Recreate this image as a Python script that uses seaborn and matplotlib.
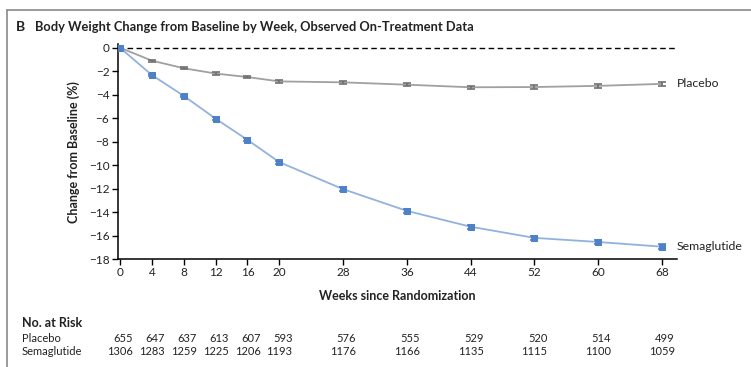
import numpy as np
import pandas as pd
import matplotlib
matplotlib.use("Agg")
import matplotlib.pyplot as plt
import seaborn as sns
from matplotlib import transforms
from matplotlib.lines import Line2D

# ---------------- data ----------------
weeks = [0, 4, 8, 12, 16, 20, 28, 36, 44, 52, 60, 68]
placebo = [0, -1.1, -1.75, -2.2, -2.5, -2.87, -2.95, -3.15, -3.37, -3.35, -3.25, -3.08]
placebo_err = [0, 0.08, 0.1, 0.1, 0.12, 0.15, 0.15, 0.15, 0.15, 0.17, 0.17, 0.17]
sema = [0, -2.33, -4.1, -6.05, -7.85, -9.75, -12.05, -13.9, -15.25, -16.2, -16.55, -16.95]
sema_err = [0, 0.08, 0.1, 0.12, 0.12, 0.14, 0.15, 0.17, 0.18, 0.2, 0.2, 0.2]
risk_placebo = [655, 647, 637, 613, 607, 593, 576, 555, 529, 520, 514, 499]
risk_sema = [1306, 1283, 1259, 1225, 1206, 1193, 1176, 1166, 1135, 1115, 1100, 1059]
yticks = list(range(-18, 1, 2))

title = "Body Weight Change from Baseline by Week, Observed On-Treatment Data"
xlabel = "Weeks since Randomization"
ylabel = "Change from Baseline (%)"

# ---------------- style ----------------
sns.set_style("ticks")
plt.rcParams["font.family"] = ["Lato", "DejaVu Sans"]

W, H = 751, 367
fig = plt.figure(figsize=(W / 100, H / 100), dpi=100)
fig.patch.set_facecolor("white")

def fx(px):
    return px / W

def fy(py):
    return 1 - py / H

ax = fig.add_axes([fx(117.6), fy(259), fx(677) - fx(117.6), fy(44.2) - fy(259)])

df = pd.DataFrame({
    "week": weeks * 2,
    "change": placebo + sema,
    "group": ["Placebo"] * len(weeks) + ["Semaglutide"] * len(weeks),
})

c_plac_line = "#a0a0a0"
c_plac_bar = "#6f6f6f"
c_sema_line = "#92b2de"
c_sema_mark = "#5080c6"

ax.axhline(0, color="black", lw=1.0, ls=(0, (4, 2.5)), zorder=1)

sns.lineplot(data=df[df.group == "Placebo"], x="week", y="change", ax=ax,
             color=c_plac_line, lw=1.3, marker=None, zorder=2, legend=False)
ax.errorbar(weeks, placebo, yerr=placebo_err, fmt="none", ecolor=c_plac_bar,
            elinewidth=1.2, capsize=2.8, capthick=1.2, zorder=3)

sns.lineplot(data=df[df.group == "Semaglutide"], x="week", y="change", ax=ax,
             color=c_sema_line, lw=1.3, marker="s", markersize=4.6,
             markerfacecolor=c_sema_mark, markeredgecolor=c_sema_mark,
             zorder=4, legend=False)
ax.errorbar(weeks, sema, yerr=sema_err, fmt="none", ecolor=c_sema_mark,
            elinewidth=1.2, capsize=2.8, capthick=1.2, zorder=5)

ax.set_xlim(-0.3, 69.9)
ax.set_ylim(-18, 0.3)
ax.set_xticks(weeks)
ax.set_yticks(yticks)
ax.set_xticklabels([str(w) for w in weeks])
ax.set_yticklabels([("\u2212" + str(-v)) if v < 0 else str(v) for v in yticks])
ax.tick_params(direction="out", length=4, width=1, colors="black",
               labelsize=8.5, labelcolor="#222222", pad=2)
for s in ["top", "right"]:
    ax.spines[s].set_visible(False)
for s in ["left", "bottom"]:
    ax.spines[s].set_linewidth(1.1)
    ax.spines[s].set_color("black")
ax.set_xlabel("")
ax.set_ylabel("")
ax.set_facecolor("white")

# series labels
ax.annotate("Placebo", (weeks[-1], placebo[-1]), xytext=(15, 0),
            textcoords="offset pixels", va="center", ha="left",
            fontsize=8.8, color="#222222")
ax.annotate("Semaglutide", (weeks[-1], sema[-1]), xytext=(15, 0),
            textcoords="offset pixels", va="center", ha="left",
            fontsize=8.8, color="#222222")

# axis labels
fig.text(fx(397), fy(296), xlabel, ha="center", va="center",
         fontsize=9, fontweight="bold", color="#222222")
fig.text(fx(74), fy(152), ylabel, ha="center", va="center", rotation=90,
         fontsize=9, fontweight="bold", color="#222222")

# title
fig.text(fx(16), fy(31), "B", ha="left", va="baseline",
         fontsize=10, fontweight="bold", color="#222222")
fig.text(fx(35), fy(31), title, ha="left", va="baseline",
         fontsize=9.3, fontweight="bold", color="#222222")

# frame lines
fig.add_artist(Line2D([fx(7), 1.0], [fy(10), fy(10)], color="#8a8a8a", lw=1.2))
fig.add_artist(Line2D([fx(7), fx(7)], [fy(10), 0.0], color="#8a8a8a", lw=1.2))

# risk table
fig.text(fx(22), fy(327), "No. at Risk", ha="left", va="baseline",
         fontsize=9, fontweight="bold", color="#222222")
fig.text(fx(22), fy(341.5), "Placebo", ha="left", va="baseline",
         fontsize=8, color="#222222")
fig.text(fx(22), fy(355), "Semaglutide", ha="left", va="baseline",
         fontsize=8, color="#222222")
blend = transforms.blended_transform_factory(ax.transData, fig.transFigure)
tr = transforms.offset_copy(blend, fig=fig, x=13, y=0, units="dots")
for w, a, b in zip(weeks, risk_placebo, risk_sema):
    fig.text(w, fy(341.5), str(a), transform=tr, ha="right", va="baseline",
             fontsize=8, color="#222222")
    fig.text(w, fy(355), str(b), transform=tr, ha="right", va="baseline",
             fontsize=8, color="#222222")

fig.savefig("out.png", dpi=100, facecolor="white")
